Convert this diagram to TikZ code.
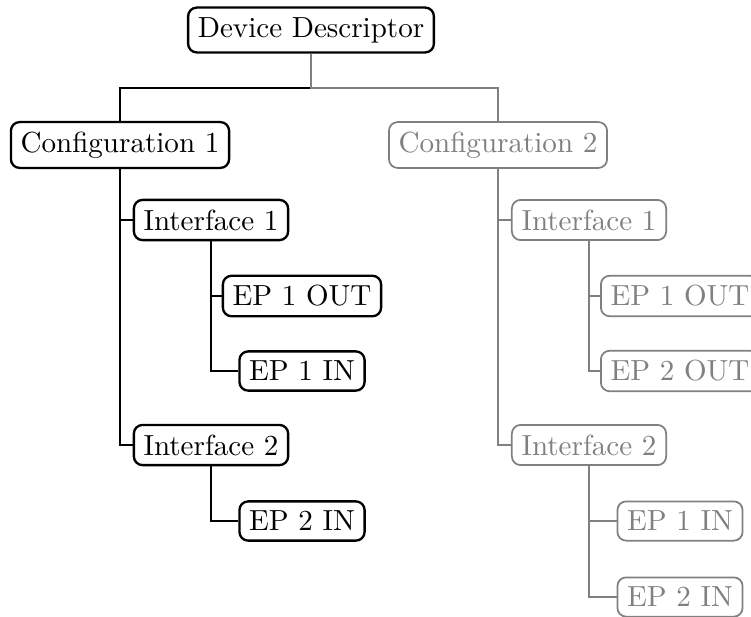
\documentclass[tikz,border=0pt]{standalone}
\usepackage{tikz}

\begin{document}
\begin{tikzpicture}[x=0.344pt,y=-0.344pt,
        box/.style={draw,thick,rounded corners=3pt,fill=white},
        off/.style={draw=gray,text=gray,semithick},
        link/.style={thick},
        offlink/.style={semithick,gray}]
        \useasboundingbox (0,0) rectangle (751,616);
        % top level
        \node[box] (dev) at (311,30) {Device Descriptor};
        \node[box] (confA) at (120,145) {Configuration 1};
        \node[box,off] (confB) at (498,145) {Configuration 2};
        % configuration 1
        \node[box] (ifAa) at (211,220) {Interface 1};
        \node[box] (epAaa) at (302,296) {EP 1 OUT};
        \node[box] (epAab) at (302,371) {EP 1 IN};
        \node[box] (ifAb) at (211,445) {Interface 2};
        \node[box] (epAba) at (302,521) {EP 2 IN};
        % configuration 2
        \node[box,off] (ifBa) at (589,220) {Interface 1};
        \node[box,off] (epBaa) at (680,296) {EP 1 OUT};
        \node[box,off] (epBab) at (680,371) {EP 2 OUT};
        \node[box,off] (ifBb) at (589,445) {Interface 2};
        \node[box,off] (epBba) at (680,521) {EP 1 IN};
        \node[box,off] (epBbb) at (680,597) {EP 2 IN};
        % connectors
        \coordinate (split) at (311,88);
        \draw[link] (dev.south) -- (split) -| (confA.north);
        \draw[offlink] (dev.south) -- (split) -| (confB.north);
        \draw[link] (confA.south) |- (ifAa.west);
        \draw[link] (confA.south) |- (ifAb.west);
        \draw[link] (ifAa.south) |- (epAaa.west);
        \draw[link] (ifAa.south) |- (epAab.west);
        \draw[link] (ifAb.south) |- (epAba.west);
        \draw[offlink] (confB.south) |- (ifBa.west);
        \draw[offlink] (confB.south) |- (ifBb.west);
        \draw[offlink] (ifBa.south) |- (epBaa.west);
        \draw[offlink] (ifBa.south) |- (epBab.west);
        \draw[offlink] (ifBb.south) |- (epBba.west);
        \draw[offlink] (ifBb.south) |- (epBbb.west);
    \end{tikzpicture}
\end{document}
